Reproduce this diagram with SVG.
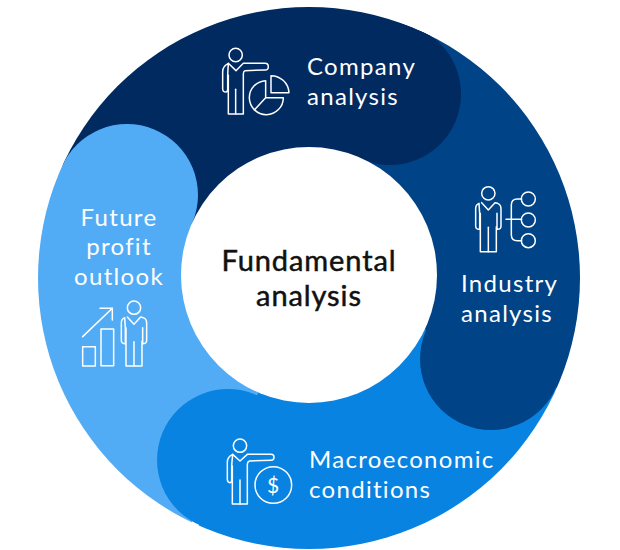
<svg xmlns="http://www.w3.org/2000/svg" width="620" height="550" viewBox="0 0 620 550">
<style>
.t{font-family:"Lato","Open Sans",sans-serif;font-size:24px;fill:#fff;letter-spacing:1.3px}
.c{font-family:"Lato","Open Sans",sans-serif;font-size:29px;fill:#111;stroke:#111;stroke-width:.5px;text-anchor:middle;letter-spacing:.9px}
.i{fill:none;stroke:#fff;stroke-width:4.5;stroke-linejoin:round;stroke-linecap:round}
</style>
<defs>
<clipPath id="ring"><circle cx="309" cy="278" r="271"/></clipPath>
<g id="standing">
<circle cx="0" cy="0" r="20"/>
<path d="M-20 28L0 50L20 28L28 30Q38 34 38 46V98Q38 108 28 108Q26 108 26 100V60M24 100V175H-24V60M-26 60V100Q-26 108 -28 108Q-38 108 -38 98V46Q-38 34 -28 30Z"/>
<path d="M0 102V175"/>
</g>
</defs>
<rect width="620" height="550" fill="#fff"/>
<g id="ring-segments" clip-path="url(#ring)">
<path fill="#52acf5" d="M309 278L127 195L-55 112V600H147L228 460Z"/>
<path fill="#012a60" d="M309 278L127 195L-55 112V-20H470L390 94Z"/>
<path fill="#004386" d="M309 278L390 94L471 -90H680V443L491 359Z"/>
<path fill="#0883e2" d="M309 278L491 359L680 443V640H147L228 460Z"/>
<circle fill="#52acf5" cx="127" cy="195" r="71"/>
<circle fill="#012a60" cx="390" cy="94" r="71"/>
<circle fill="#004386" cx="491" cy="359" r="71"/>
<circle fill="#0883e2" cx="228" cy="460" r="71"/>
</g>
<g id="node-center">
<circle cx="309" cy="275" r="128" fill="#fff"/>
<text class="c" x="309" y="271">Fundamental</text>
<text class="c" x="309" y="306">analysis</text>
</g>
<g id="node-company">
<g class="i" transform="translate(200 30) scale(.3333)">
<circle cx="107" cy="75" r="20"/>
<path d="M85 100L108 122L130 100H195Q205 100 205 110Q205 120 195 120L135 122Q130 124 130 132V252H85V135M83 135V178Q83 186 78 186Q68 186 68 176V125Q68 108 85 100Z"/>
<path d="M107 178V252"/>
<path d="M197 152A51 51 0 1 0 250 203H197ZM197 203L163 240"/>
<path d="M213 137A54 54 0 0 1 267 188H213Z"/>
</g>
<text class="t" x="307" y="75">Company</text>
<text class="t" x="307" y="105">analysis</text>
</g>
<g id="node-industry">
<g class="i" transform="translate(440 170) scale(.3333)">
<use href="#standing" x="145" y="70"/>
<path d="M198 148H245M245 87H232Q214 87 214 105V194Q214 212 232 212H245"/>
<circle cx="265" cy="87" r="21"/><circle cx="265" cy="150" r="21"/><circle cx="265" cy="212" r="21"/>
</g>
<text class="t" x="461" y="292">Industry</text>
<text class="t" x="461" y="322">analysis</text>
</g>
<g id="node-macro">
<g class="i" transform="translate(210 425) scale(.3333)">
<circle cx="90" cy="62" r="20"/>
<path d="M68 88L90 108L112 88H183Q192 88 192 97Q192 106 183 106L118 108Q112 110 112 118V237H67V122M65 122V165Q65 173 60 173Q52 173 52 163V112Q52 95 68 88Z"/>
<path d="M90 165V237"/>
<circle cx="190" cy="180" r="55"/>
</g>
<text x="273" y="493" font-family="Lato,sans-serif" font-size="21" fill="#fff" text-anchor="middle">$</text>
<text class="t" x="309" y="468">Macroeconomic</text>
<text class="t" x="309" y="498">conditions</text>
</g>
<g id="node-future">
<text class="t" x="119" y="226" text-anchor="middle">Future</text>
<text class="t" x="119" y="255" text-anchor="middle">profit</text>
<text class="t" x="119" y="285" text-anchor="middle">outlook</text>
<g class="i" transform="translate(60 280) scale(.3333)">
<use href="#standing" x="222" y="83"/>
<rect x="68" y="200" width="38" height="58"/>
<rect x="123" y="147" width="38" height="110"/>
<path d="M68 170L157 85M120 85H157V120"/>
</g>
</g>
<g id="connectors"/>
</svg>
